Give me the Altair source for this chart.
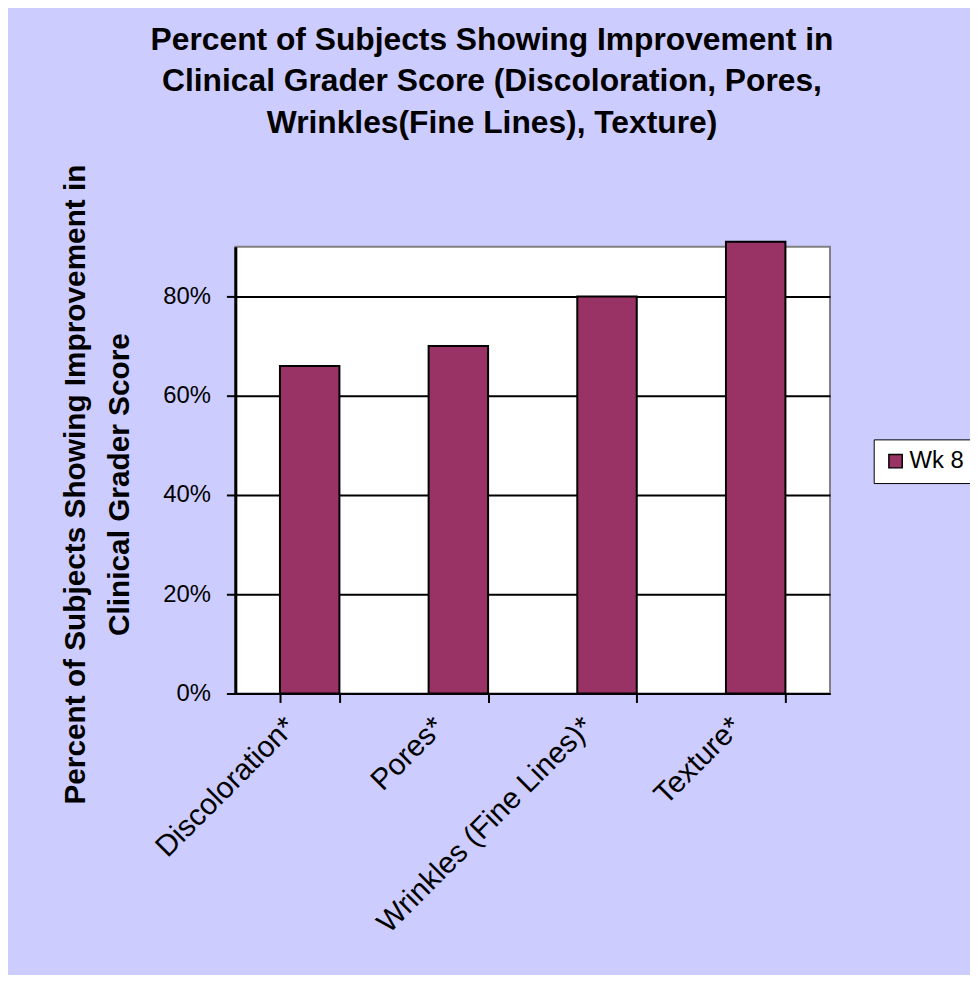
import altair as alt
import pandas as pd

categories = ["Discoloration*", "Pores*", "Wrinkles (Fine Lines)*", "Texture*"]
values = [0.66, 0.70, 0.80, 0.91]
series = ["Wk 8", "Wk 8", "Wk 8", "Wk 8"]
y_ticks = [0, 0.2, 0.4, 0.6, 0.8]

df = pd.DataFrame({"category": categories, "value": values, "series": series})

FONT = "Liberation Sans"

bars = alt.Chart(df).mark_bar(stroke="black", strokeWidth=2).encode(
    x=alt.X(
        "category:N",
        sort=categories,
        scale=alt.Scale(paddingInner=0.6, paddingOuter=0.3),
        axis=alt.Axis(
            title=None,
            labelAngle=315,
            labelAlign="right",
            labelBaseline="top",
            labelFontSize=30,
            labelFont=FONT,
            labelColor="black",
            labelPadding=9,
            labelOffset=-30,
            labelLimit=1000,
            tickBand="extent",
            tickColor="black",
            tickWidth=2,
            tickSize=9,
            domainColor="black",
            domainWidth=2,
            grid=False,
        ),
    ),
    y=alt.Y(
        "value:Q",
        scale=alt.Scale(domain=[0, 0.9], nice=False),
        axis=alt.Axis(
            title=["Percent of Subjects Showing Improvement in", "Clinical Grader Score"],
            titleFont=FONT,
            titleFontSize=30,
            titleFontWeight="bold",
            titleColor="black",
            titleAngle=270,
            titleAlign="center",
            titleBaseline="top",
            titleX=-176,
            titleY=239,
            titleLineHeight=44,
            values=y_ticks,
            format=".0%",
            labelFont=FONT,
            labelFontSize=24,
            labelColor="black",
            labelPadding=16,
            tickColor="black",
            tickWidth=2,
            tickSize=9,
            domainColor="black",
            domainWidth=3,
            grid=True,
            gridColor="black",
            gridWidth=2,
        ),
    ),
    color=alt.Color(
        "series:N",
        scale=alt.Scale(range=["#993366"]),
        legend=alt.Legend(
            title=None,
            orient="none",
            legendX=643,
            legendY=194,
            symbolType="square",
            symbolSize=180,
            symbolStrokeColor="black",
            symbolStrokeWidth=1.5,
            symbolOpacity=1,
            labelFont=FONT,
            labelFontSize=24,
            labelColor="black",
            labelOffset=2,
            labelLimit=200,
            fillColor="white",
            strokeColor="black",
            padding=10,
        ),
    ),
)

chart = bars.properties(
    width=599,
    height=450,
    autosize="none",
    padding={"left": 229, "top": 237, "right": 141, "bottom": 280},
    background="#CCCCFF",
    title=alt.TitleParams(
        text=[
            "Percent of Subjects Showing Improvement in",
            "Clinical Grader Score (Discoloration, Pores,",
            "Wrinkles(Fine Lines), Texture)",
        ],
        font=FONT,
        fontSize=32,
        fontWeight="bold",
        color="black",
        anchor="middle",
        lineHeight=42,
        offset=24,
        dx=-41,
    ),
).configure_view(
    fill="white", stroke="#808080", strokeWidth=2
)

chart.save("out.html", embed_options={"renderer": "svg", "actions": False})
